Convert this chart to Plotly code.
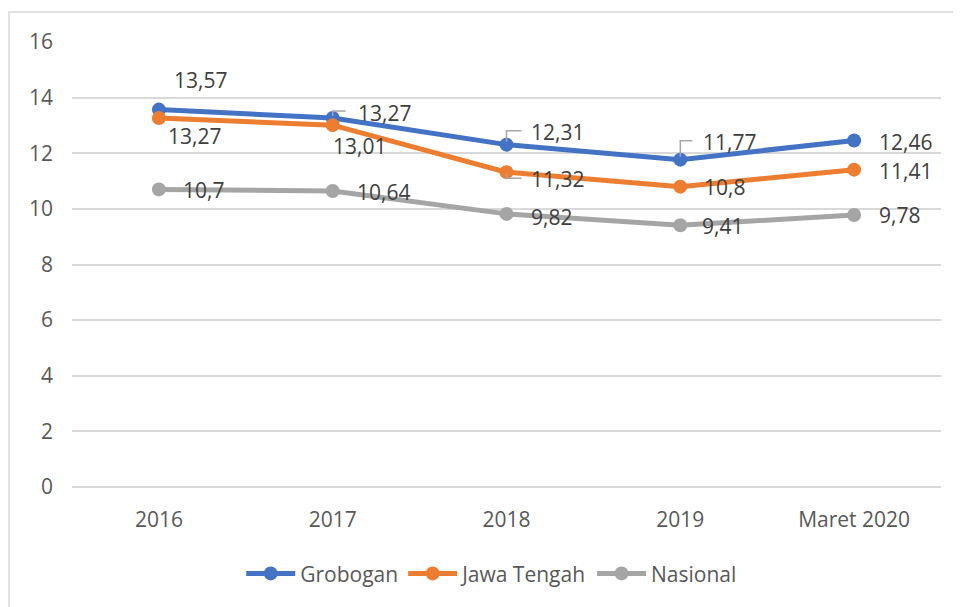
import plotly.graph_objects as go

categories = ["2016", "2017", "2018", "2019", "Maret 2020"]
grobogan = [13.57, 13.27, 12.31, 11.77, 12.46]
jawa_tengah = [13.27, 13.01, 11.32, 10.80, 11.41]
nasional = [10.70, 10.64, 9.82, 9.41, 9.78]

series = [
    ("Grobogan", grobogan, "#4472C4"),
    ("Jawa Tengah", jawa_tengah, "#ED7D31"),
    ("Nasional", nasional, "#A5A5A5"),
]

# label placement (pixel offsets: left edge x, text middle y up-positive)
label_offsets = {
    "Grobogan": [(13, 30), (23, 5), (22, 13), (21, 18), (23, -2)],
    "Jawa Tengah": [(7, -18), (-2, -21), (22, -7), (22, 0), (23, -1)],
    "Nasional": [(22, -1), (22, -1), (22, -3), (20, -1), (23, 0)],
}

# excel-style leader lines (path in pixels relative to the point)
leaders = [
    ("Grobogan", 1, "M0,2 L0,7 L13,7"),
    ("Grobogan", 2, "M0,3 L0,14 L15,14"),
    ("Grobogan", 3, "M0,3 L0,19 L12,19"),
    ("Jawa Tengah", 2, "M0,-1 L0,-6 L15,-6"),
]


def fmt(v):
    return f"{v:g}".replace(".", ",")


fig = go.Figure()

for name, vals, color in series:
    fig.add_trace(go.Scatter(
        x=categories,
        y=vals,
        mode="lines+markers",
        name=name,
        line=dict(color=color, width=5),
        marker=dict(color=color, size=14),
    ))

annotations = []
for name, vals, color in series:
    for i, (v, (dx, dy)) in enumerate(zip(vals, label_offsets[name])):
        annotations.append(dict(
            x=i, y=v, xref="x", yref="y",
            text=fmt(v), showarrow=False,
            xanchor="left", yanchor="middle",
            xshift=dx, yshift=dy,
            font=dict(family="Open Sans", size=21, color="#404040"),
        ))

lookup = {name: vals for name, vals, _ in series}
shapes = []
for name, i, path in leaders:
    shapes.append(dict(
        type="path", xref="x", yref="y",
        xsizemode="pixel", ysizemode="pixel",
        xanchor=i, yanchor=lookup[name][i],
        path=path,
        line=dict(color="#A6A6A6", width=1.5),
    ))

# chart border
shapes.append(dict(
    type="rect", xref="paper", yref="paper",
    x0=-0.0725, x1=1.05, y0=-0.35, y1=1.0674,
    line=dict(color="#D9D9D9", width=1.5),
    layer="below",
))

fig.update_layout(
    width=953,
    height=599,
    margin=dict(l=64, r=20, t=34, b=120),
    paper_bgcolor="white",
    plot_bgcolor="white",
    font=dict(family="Open Sans", size=20, color="#595959"),
    xaxis=dict(
        type="category",
        range=[-0.5, 4.5],
        showgrid=False,
        showline=False,
        zeroline=False,
        ticks="",
        ticklabelstandoff=18,
        tickfont=dict(size=21, color="#595959"),
    ),
    yaxis=dict(
        range=[0, 16],
        dtick=2,
        showgrid=True,
        gridcolor="#D9D9D9",
        gridwidth=2,
        zeroline=True,
        zerolinecolor="#D9D9D9",
        zerolinewidth=2,
        showline=False,
        ticks="",
        ticklabelstandoff=18,
        tickfont=dict(size=21, color="#595959"),
    ),
    legend=dict(
        orientation="h",
        x=0.483, xanchor="center",
        y=-0.195, yanchor="middle",
        font=dict(size=21, color="#595959"),
        itemwidth=49,
    ),
    annotations=annotations,
    shapes=shapes,
)

fig.write_html("out.html")
